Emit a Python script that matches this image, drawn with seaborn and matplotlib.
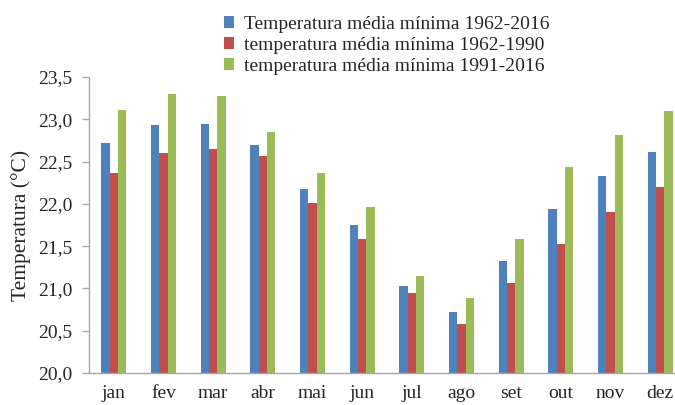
import numpy as np
import pandas as pd
import matplotlib
matplotlib.use("Agg")
import matplotlib.pyplot as plt
import seaborn as sns

months = ["jan", "fev", "mar", "abr", "mai", "jun", "jul", "ago", "set", "out", "nov", "dez"]
series_names = ["Temperatura média mínima 1962-2016",
                "temperatura média mínima 1962-1990",
                "temperatura média mínima 1991-2016"]
t_1962_2016 = [22.72, 22.93, 22.94, 22.70, 22.17, 21.75, 21.03, 20.72, 21.32, 21.94, 22.33, 22.61]
t_1962_1990 = [22.37, 22.60, 22.65, 22.57, 22.01, 21.58, 20.95, 20.58, 21.07, 21.52, 21.90, 22.20]
t_1991_2016 = [23.11, 23.30, 23.27, 22.85, 22.36, 21.96, 21.15, 20.89, 21.59, 22.44, 22.82, 23.10]
y_ticks = [20.0, 20.5, 21.0, 21.5, 22.0, 22.5, 23.0, 23.5]
colors = ["#4F81BD", "#C0504D", "#9BBB59"]

df = pd.DataFrame({
    "mes": months * 3,
    "serie": [series_names[0]] * 12 + [series_names[1]] * 12 + [series_names[2]] * 12,
    "valor": t_1962_2016 + t_1962_1990 + t_1991_2016,
})

sns.set_style("white")
plt.rcParams["font.family"] = ["Liberation Serif", "DejaVu Serif"]

fig = plt.figure(figsize=(6.75, 4.05), dpi=100)
ax = fig.add_axes([89 / 675, 32 / 405, 596 / 675, 296 / 405])

sns.barplot(data=df, x="mes", y="valor", hue="serie", order=months,
            hue_order=series_names, palette=colors, width=0.5,
            saturation=1, ax=ax, edgecolor="none", legend=True)

ax.set_ylim(20.0, 23.5)
ax.set_yticks(y_ticks)
ax.set_yticklabels([f"{v:.1f}".replace(".", ",") for v in y_ticks], fontsize=14)
ax.set_xticks(range(len(months)))
ax.set_xticklabels(months, fontsize=14)
ax.set_xlim(-0.5, 11.5)
ax.set_xlabel("")
ax.set_ylabel("Temperatura (°C)", fontsize=15.5, labelpad=5)

for s in ["top", "right"]:
    ax.spines[s].set_visible(False)
for s in ["left", "bottom"]:
    ax.spines[s].set_color("#A6A6A6")
    ax.spines[s].set_linewidth(1.0)
ax.tick_params(axis="y", which="both", left=True, length=5, width=1, color="#A6A6A6", pad=7)
ax.tick_params(axis="x", bottom=False, pad=5)

handles, labels = ax.get_legend_handles_labels()
ax.legend_.remove()
fig.legend(handles, labels, loc="upper left", bbox_to_anchor=(216 / 675, 1 - 8 / 405),
           frameon=False, fontsize=14, handlelength=0.55, handleheight=0.55,
           handletextpad=0.5, labelspacing=0.2, borderaxespad=0)

fig.savefig("out.png", dpi=100)
